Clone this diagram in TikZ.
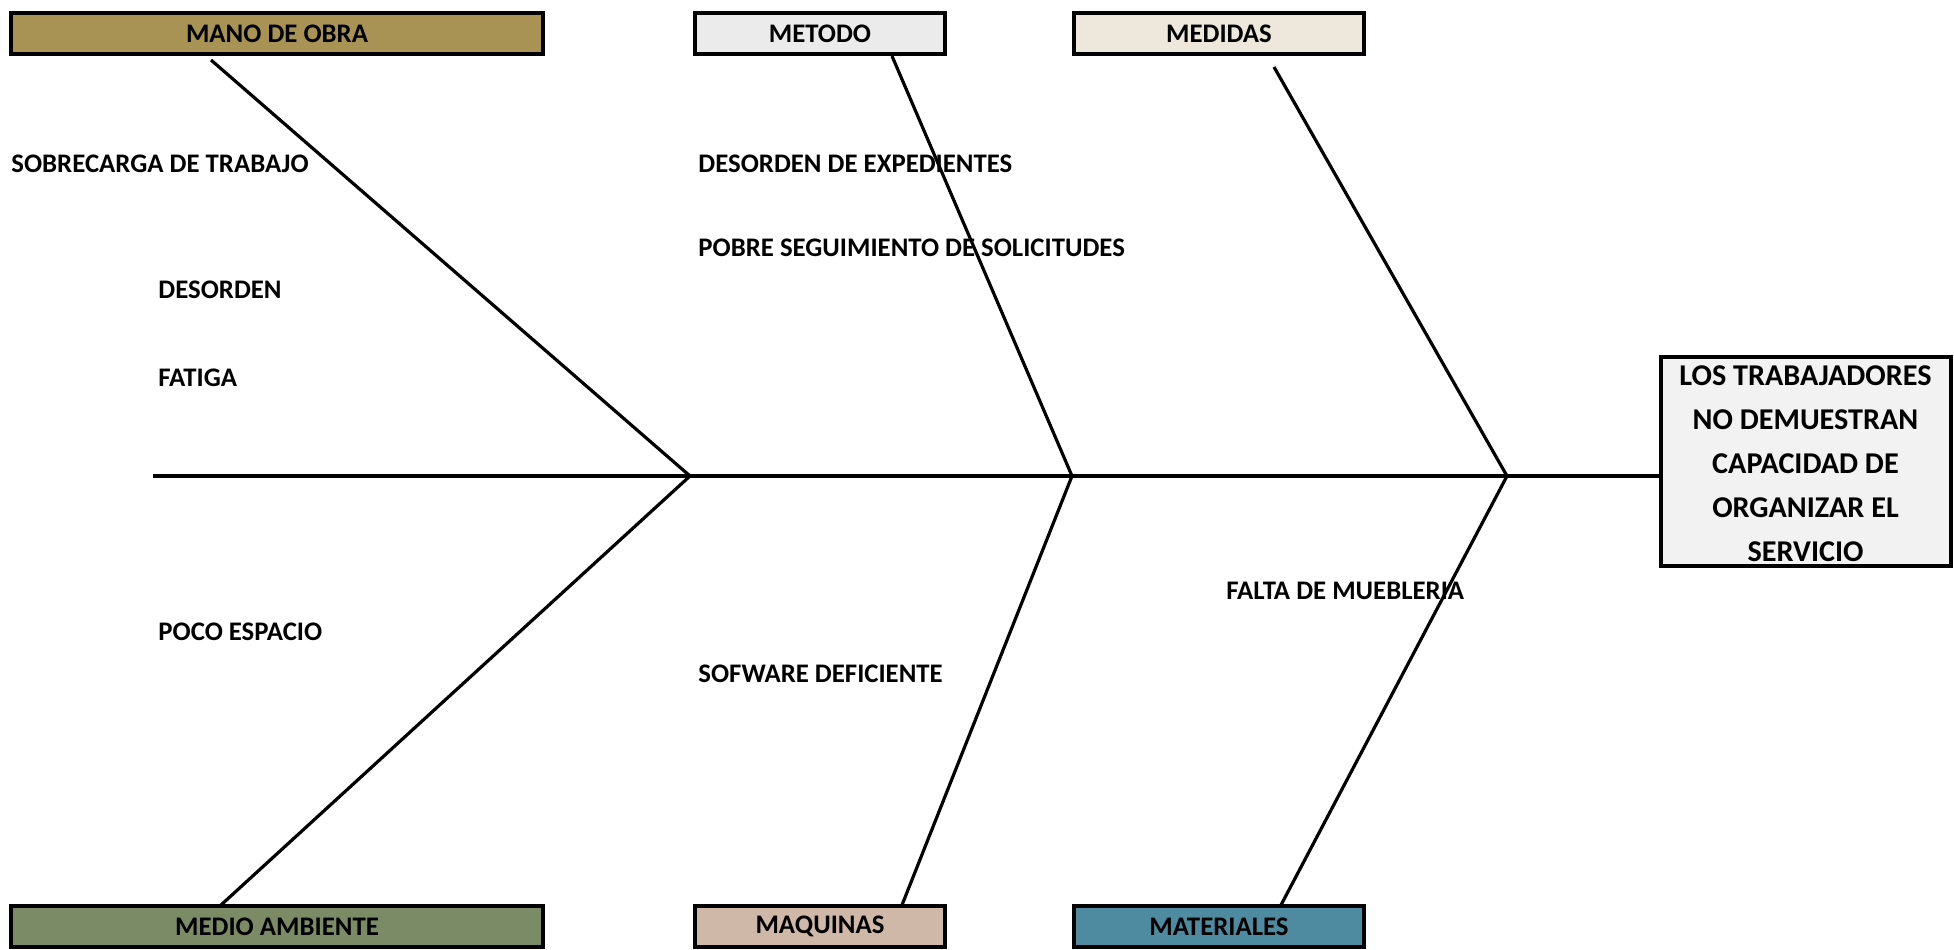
\documentclass[tikz,border=0pt]{standalone}
\usepackage{fontspec}
\setmainfont{Carlito}
\definecolor{manocol}{RGB}{168,147,84}
\definecolor{metodocol}{RGB}{235,235,235}
\definecolor{medidascol}{RGB}{238,232,220}
\definecolor{mediocol}{RGB}{122,139,101}
\definecolor{maqcol}{RGB}{208,184,168}
\definecolor{matcol}{RGB}{78,138,160}
\definecolor{efectocol}{RGB}{242,242,242}
\begin{document}
\begin{tikzpicture}[x=0.5pt,y=-0.5pt]
    \tikzstyle{cat}=[draw=black,line width=2pt,inner sep=0pt,minimum height=20.5pt,
      font=\fontsize{13.4}{16}\selectfont\bfseries]
    \tikzstyle{causa}=[anchor=west,inner sep=0pt,text height=8.6pt,text depth=0pt,
      font=\fontsize{13.4}{16}\selectfont\bfseries]
    \tikzstyle{bone}=[line width=1.6pt]
    \useasboundingbox (0,0) rectangle (1954,949);

    % categorias arriba
    \node[cat,fill=manocol,minimum width=266pt] (mano) at (277,33.5) {MANO DE OBRA};
    \node[cat,fill=metodocol,minimum width=125pt] (metodo) at (820,33.5) {METODO};
    \node[cat,fill=medidascol,minimum width=145pt] (medidas) at (1219,33.5) {MEDIDAS};
    % categorias abajo
    \node[cat,fill=mediocol,minimum width=266pt] (medio) at (277,926.5) {MEDIO AMBIENTE};
    \node[cat,fill=maqcol,minimum width=125pt] (maquinas) at (820,926.5) {MAQUINAS};
    \node[cat,fill=matcol,minimum width=145pt] (materiales) at (1219,926.5) {MATERIALES};

    % efecto
    \node[draw=black,line width=2pt,fill=efectocol,minimum width=145pt,minimum height=104.5pt,
      inner sep=0pt,align=center,font=\fontsize{15.1}{22}\selectfont\bfseries]
      (efecto) at (1805.5,461) {};
    \node[align=center,inner sep=0pt,font=\fontsize{15.1}{22}\selectfont\bfseries]
      (efectotxt) at (1805.5,464) {LOS TRABAJADORES\\NO DEMUESTRAN\\CAPACIDAD DE\\ORGANIZAR EL\\SERVICIO};

    % espina
    \coordinate (cola) at (153,476);
    \coordinate (j1) at (690,476);
    \coordinate (j2) at (1072,476);
    \coordinate (j3) at (1507,476);
    \draw[bone] (cola) -- (cola -| efecto.west);

    % espinas laterales
    \coordinate (m1) at (211,60);
    \coordinate (m2) at (892,56);
    \coordinate (m3) at (1274,67);
    \coordinate (b1) at (221,905);
    \coordinate (b2) at (902,905);
    \coordinate (b3) at (1281,905);
    \draw[bone] (m1) -- (j1) -- (b1);
    \draw[bone] (m2) -- (j2) -- (b2);
    \draw[bone] (m3) -- (j3) -- (b3);

    % causas
    \node[causa] (c1) at (11,164) {SOBRECARGA DE TRABAJO};
    \node[causa] (c2) at (158,290) {DESORDEN};
    \node[causa] (c3) at (158,378) {FATIGA};
    \node[causa] (c4) at (158,632) {POCO ESPACIO};
    \node[causa] (c5) at (698,164) {DESORDEN DE EXPEDIENTES};
    \node[causa] (c6) at (698,248) {POBRE SEGUIMIENTO DE SOLICITUDES};
    \node[causa] (c7) at (698,674) {SOFWARE DEFICIENTE};
    \node[causa] (c8) at (1226,591) {FALTA DE MUEBLERIA};
\end{tikzpicture}
\end{document}
